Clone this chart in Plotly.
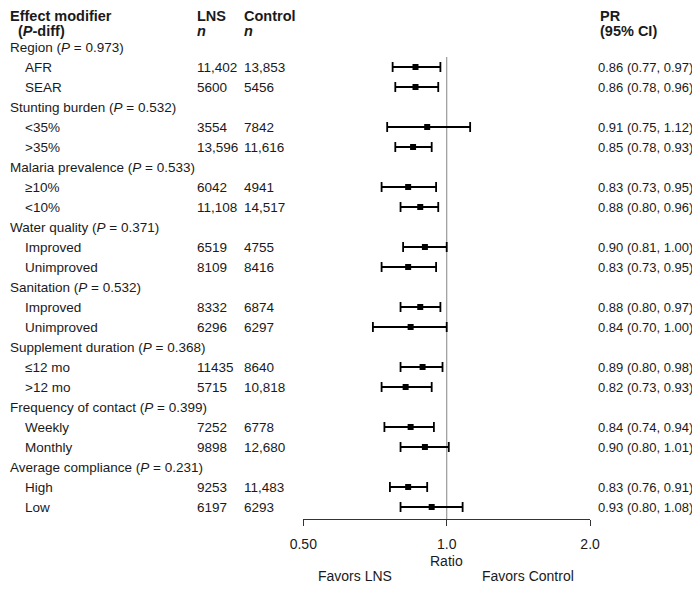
import plotly.graph_objects as go

# ---------------- data ----------------
groups = ["Region", "Stunting burden", "Malaria prevalence", "Water quality",
          "Sanitation", "Supplement duration", "Frequency of contact", "Average compliance"]
p_diff = ["0.973", "0.532", "0.533", "0.371", "0.532", "0.368", "0.399", "0.231"]
subgroups = [["AFR", "SEAR"], ["&lt;35%", "&gt;35%"], ["≥10%", "&lt;10%"],
             ["Improved", "Unimproved"], ["Improved", "Unimproved"],
             ["≤12 mo", "&gt;12 mo"], ["Weekly", "Monthly"], ["High", "Low"]]
lns_n = ["11,402", "5600", "3554", "13,596", "6042", "11,108", "6519", "8109",
         "8332", "6296", "11435", "5715", "7252", "9898", "9253", "6197"]
control_n = ["13,853", "5456", "7842", "11,616", "4941", "14,517", "4755", "8416",
             "6874", "6297", "8640", "10,818", "6778", "12,680", "11,483", "6293"]
pr = [0.86, 0.86, 0.91, 0.85, 0.83, 0.88, 0.90, 0.83,
      0.88, 0.84, 0.89, 0.82, 0.84, 0.90, 0.83, 0.93]
ci_lo = [0.77, 0.78, 0.75, 0.78, 0.73, 0.80, 0.81, 0.73,
         0.80, 0.70, 0.80, 0.73, 0.74, 0.80, 0.76, 0.80]
ci_hi = [0.97, 0.96, 1.12, 0.93, 0.95, 0.96, 1.00, 0.95,
         0.97, 1.00, 0.98, 0.93, 0.94, 1.01, 0.91, 1.08]
tick_vals = [0.5, 1.0, 2.0]
tick_text = ["0.50", "1.0", "2.0"]

# ---------------- layout helpers ----------------
OFF = 8                           # page (body) margin of the html page
W, H = 700 - 2 * OFF, 591 - 2 * OFF  # figure fits the window without overflow
FONT = "Liberation Sans, Arial, Helvetica, sans-serif"
TXT = "#1a1a1a"

def px(x):   # window pixel -> paper x
    return max(x - OFF, 0) / W

def py(y):   # window pixel -> paper y
    return 1 - (y - OFF) / H

sub_rows = []
for g in range(len(groups)):
    sub_rows += [3 * g + 1, 3 * g + 2]

fig = go.Figure()
fig.add_trace(go.Scatter(
    x=pr, y=sub_rows, mode="markers",
    marker=dict(symbol="square", size=6, color="black"),
    error_x=dict(type="data", symmetric=False,
                 array=[h - p for h, p in zip(ci_hi, pr)],
                 arrayminus=[p - l for p, l in zip(pr, ci_lo)],
                 color="black", thickness=1.8, width=5),
    showlegend=False, hoverinfo="skip", cliponaxis=False,
))

ann = []

def text(x, y, s, size=13.5, xanchor="left", yref="y", bold=False):
    ann.append(dict(x=x, y=y, xref="paper", yref=yref, text=(f"<b>{s}</b>" if bold else s),
                    showarrow=False, xanchor=xanchor, yanchor="middle",
                    font=dict(family=FONT, size=size, color=TXT)))

X_LABEL, X_SUB, X_LNS, X_CTRL, X_PR = 0, 23, 195, 242, 598
H1, H2 = py(16), py(31)
text(px(X_LABEL), H1, "Effect modifier", size=14.5, bold=True, yref="paper")
text(px(16), H2, "(<i>P</i>-diff)", size=14.5, bold=True, yref="paper")
text(px(X_LNS), H1, "LNS", size=14.5, bold=True, yref="paper")
text(px(X_LNS), H2, "<i>n</i>", size=14.5, bold=True, yref="paper")
text(px(X_CTRL), H1, "Control", size=14.5, bold=True, yref="paper")
text(px(X_CTRL), H2, "<i>n</i>", size=14.5, bold=True, yref="paper")
text(px(X_PR), H1, "PR", size=14.5, bold=True, yref="paper")
text(px(X_PR), H2, "(95% CI)", size=14.5, bold=True, yref="paper")

k = 0
for g, name in enumerate(groups):
    text(px(X_LABEL), 3 * g, f"{name} (<i>P</i> = {p_diff[g]})")
    for s in subgroups[g]:
        r = sub_rows[k]
        text(px(X_SUB), r, s)
        text(px(X_LNS), r, lns_n[k])
        text(px(X_CTRL), r, control_n[k])
        text(px(596), r, f"{pr[k]:.2f} ({ci_lo[k]:.2f}, {ci_hi[k]:.2f})", size=13)
        k += 1

x_one = 446.7
text(px(x_one), py(561), "Ratio", size=14, xanchor="center", yref="paper")
text(px(355), py(576), "Favors LNS", size=14, xanchor="center", yref="paper")
text(px(528), py(576), "Favors Control", size=14, xanchor="center", yref="paper")

fig.add_shape(type="line", x0=1, x1=1, y0=0.5, y1=23.6, xref="x", yref="y",
              line=dict(color="#9a9a9a", width=1.2), layer="below")

x_left, x_right = 303.3, 590.1
row_top = 47 - OFF            # pixel of row 0 in figure
y_axis_px = 519 - OFF         # pixel of axis line in figure
y_lo = 23.6
y_hi = -row_top / 20.0
fig.update_layout(
    width=W, height=H, margin=dict(l=0, r=0, t=0, b=0, autoexpand=False),
    paper_bgcolor="white", plot_bgcolor="white",
    annotations=ann,
    xaxis=dict(type="log", range=[-0.30103, 0.30103], domain=[px(x_left), px(x_right)],
               showgrid=False, zeroline=False, showline=True, linecolor="#333", linewidth=1,
               ticks="outside", ticklen=6, tickcolor="#333", tickwidth=1, automargin=False,
               tickvals=tick_vals, ticktext=tick_text, ticklabelstandoff=6,
               tickfont=dict(family=FONT, size=14, color=TXT)),
    yaxis=dict(range=[y_lo, y_hi], domain=[1 - y_axis_px / H, 1], visible=False,
               automargin=False),
)

fig.write_html("out.html")
